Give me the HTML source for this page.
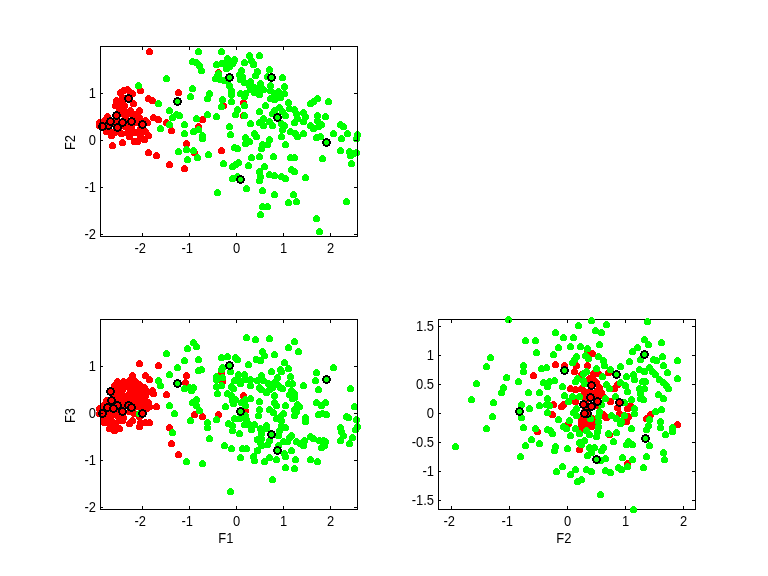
<!DOCTYPE html>
<html><head><meta charset="utf-8"><title>Feature scatter plots</title>
<style>html,body{margin:0;padding:0;background:#fff;}svg{display:block;}</style></head><body>
<svg width="768" height="576" viewBox="0 0 768 576">
<rect width="768" height="576" fill="#fff"/>
<g shape-rendering="crispEdges" fill="#000">
<rect x="100" y="46" width="258" height="1"/>
<rect x="100" y="236" width="258" height="1"/>
<rect x="100" y="319" width="258" height="1"/>
<rect x="100" y="509" width="258" height="1"/>
<rect x="438" y="319" width="258" height="1"/>
<rect x="438" y="509" width="258" height="1"/>
</g>
<g fill="#f00" shape-rendering="crispEdges">
<circle cx="149.5" cy="51.5" r="3.5"/><circle cx="140.5" cy="90.5" r="3.5"/><circle cx="178.5" cy="92.5" r="3.5"/><circle cx="148.5" cy="98.5" r="3.5"/><circle cx="152.5" cy="100.5" r="3.5"/><circle cx="218.5" cy="72.5" r="3.5"/><circle cx="153.5" cy="117.5" r="3.5"/><circle cx="158.5" cy="119.5" r="3.5"/><circle cx="166.5" cy="122.5" r="3.5"/><circle cx="171.5" cy="130.5" r="3.5"/><circle cx="202.5" cy="119.5" r="3.5"/><circle cx="198.5" cy="126.5" r="3.5"/><circle cx="223.5" cy="105.5" r="3.5"/><circle cx="127.5" cy="89.5" r="3.5"/><circle cx="123.5" cy="90.5" r="3.5"/><circle cx="120.5" cy="92.5" r="3.5"/><circle cx="130.5" cy="92.5" r="3.5"/><circle cx="132.5" cy="93.5" r="3.5"/><circle cx="128.5" cy="98.5" r="3.5"/><circle cx="116.5" cy="100.5" r="3.5"/><circle cx="115.5" cy="105.5" r="3.5"/><circle cx="118.5" cy="106.5" r="3.5"/><circle cx="133.5" cy="103.5" r="3.5"/><circle cx="122.5" cy="102.5" r="3.5"/><circle cx="124.5" cy="105.5" r="3.5"/><circle cx="123.5" cy="108.5" r="3.5"/><circle cx="130.5" cy="110.5" r="3.5"/><circle cx="139.5" cy="110.5" r="3.5"/><circle cx="137.5" cy="113.5" r="3.5"/><circle cx="127.5" cy="113.5" r="3.5"/><circle cx="116.5" cy="115.5" r="3.5"/><circle cx="107.5" cy="116.5" r="3.5"/><circle cx="110.5" cy="120.5" r="3.5"/><circle cx="122.5" cy="121.5" r="3.5"/><circle cx="131.5" cy="120.5" r="3.5"/><circle cx="142.5" cy="123.5" r="3.5"/><circle cx="100.5" cy="123.5" r="3.5"/><circle cx="99.5" cy="125.5" r="3.5"/><circle cx="145.5" cy="120.5" r="3.5"/><circle cx="147.5" cy="122.5" r="3.5"/><circle cx="121.5" cy="113.5" r="3.5"/><circle cx="134.5" cy="115.5" r="3.5"/><circle cx="139.5" cy="117.5" r="3.5"/><circle cx="125.5" cy="117.5" r="3.5"/><circle cx="119.5" cy="111.5" r="3.5"/><circle cx="132.5" cy="113.5" r="3.5"/><circle cx="106.5" cy="124.5" r="3.5"/><circle cx="122.5" cy="97.5" r="3.5"/><circle cx="112.5" cy="145.5" r="3.5"/><circle cx="122.5" cy="142.5" r="3.5"/><circle cx="134.5" cy="141.5" r="3.5"/><circle cx="137.5" cy="141.5" r="3.5"/><circle cx="148.5" cy="152.5" r="3.5"/><circle cx="156.5" cy="155.5" r="3.5"/><circle cx="104.5" cy="120.5" r="3.5"/><circle cx="99.5" cy="122.5" r="3.5"/><circle cx="106.5" cy="131.5" r="3.5"/><circle cx="111.5" cy="135.5" r="3.5"/><circle cx="114.5" cy="132.5" r="3.5"/><circle cx="121.5" cy="133.5" r="3.5"/><circle cx="129.5" cy="136.5" r="3.5"/><circle cx="130.5" cy="131.5" r="3.5"/><circle cx="135.5" cy="132.5" r="3.5"/><circle cx="140.5" cy="128.5" r="3.5"/><circle cx="145.5" cy="131.5" r="3.5"/><circle cx="148.5" cy="135.5" r="3.5"/><circle cx="144.5" cy="139.5" r="3.5"/><circle cx="140.5" cy="136.5" r="3.5"/><circle cx="137.5" cy="117.5" r="3.5"/><circle cx="131.5" cy="127.5" r="3.5"/><circle cx="125.5" cy="126.5" r="3.5"/><circle cx="110.5" cy="121.5" r="3.5"/><circle cx="102.5" cy="126.5" r="3.5"/><circle cx="117.5" cy="127.5" r="3.5"/><circle cx="108.5" cy="125.5" r="3.5"/><circle cx="119.5" cy="131.5" r="3.5"/><circle cx="110.5" cy="131.5" r="3.5"/><circle cx="135.5" cy="122.5" r="3.5"/><circle cx="116.5" cy="120.5" r="3.5"/><circle cx="139.5" cy="132.5" r="3.5"/><circle cx="115.5" cy="123.5" r="3.5"/><circle cx="126.5" cy="121.5" r="3.5"/><circle cx="140.5" cy="120.5" r="3.5"/><circle cx="127.5" cy="132.5" r="3.5"/><circle cx="169.5" cy="164.5" r="3.5"/><circle cx="184.5" cy="168.5" r="3.5"/><circle cx="186.5" cy="143.5" r="3.5"/><circle cx="194.5" cy="152.5" r="3.5"/><circle cx="221.5" cy="150.5" r="3.5"/><circle cx="139.5" cy="363.5" r="3.5"/><circle cx="158.5" cy="365.5" r="3.5"/><circle cx="132.5" cy="375.5" r="3.5"/><circle cx="145.5" cy="375.5" r="3.5"/><circle cx="149.5" cy="379.5" r="3.5"/><circle cx="186.5" cy="375.5" r="3.5"/><circle cx="185.5" cy="382.5" r="3.5"/><circle cx="152.5" cy="390.5" r="3.5"/><circle cx="153.5" cy="393.5" r="3.5"/><circle cx="166.5" cy="394.5" r="3.5"/><circle cx="156.5" cy="406.5" r="3.5"/><circle cx="117.5" cy="381.5" r="3.5"/><circle cx="123.5" cy="381.5" r="3.5"/><circle cx="129.5" cy="380.5" r="3.5"/><circle cx="135.5" cy="381.5" r="3.5"/><circle cx="139.5" cy="384.5" r="3.5"/><circle cx="144.5" cy="387.5" r="3.5"/><circle cx="147.5" cy="391.5" r="3.5"/><circle cx="145.5" cy="395.5" r="3.5"/><circle cx="148.5" cy="402.5" r="3.5"/><circle cx="147.5" cy="406.5" r="3.5"/><circle cx="106.5" cy="400.5" r="3.5"/><circle cx="102.5" cy="406.5" r="3.5"/><circle cx="119.5" cy="386.5" r="3.5"/><circle cx="125.5" cy="386.5" r="3.5"/><circle cx="132.5" cy="386.5" r="3.5"/><circle cx="121.5" cy="392.5" r="3.5"/><circle cx="129.5" cy="393.5" r="3.5"/><circle cx="135.5" cy="394.5" r="3.5"/><circle cx="140.5" cy="393.5" r="3.5"/><circle cx="119.5" cy="397.5" r="3.5"/><circle cx="127.5" cy="399.5" r="3.5"/><circle cx="134.5" cy="401.5" r="3.5"/><circle cx="138.5" cy="399.5" r="3.5"/><circle cx="121.5" cy="402.5" r="3.5"/><circle cx="137.5" cy="405.5" r="3.5"/><circle cx="140.5" cy="407.5" r="3.5"/><circle cx="114.5" cy="385.5" r="3.5"/><circle cx="110.5" cy="391.5" r="3.5"/><circle cx="111.5" cy="400.5" r="3.5"/><circle cx="114.5" cy="391.5" r="3.5"/><circle cx="115.5" cy="396.5" r="3.5"/><circle cx="122.5" cy="389.5" r="3.5"/><circle cx="124.5" cy="396.5" r="3.5"/><circle cx="130.5" cy="390.5" r="3.5"/><circle cx="137.5" cy="388.5" r="3.5"/><circle cx="132.5" cy="397.5" r="3.5"/><circle cx="119.5" cy="391.5" r="3.5"/><circle cx="142.5" cy="398.5" r="3.5"/><circle cx="129.5" cy="383.5" r="3.5"/><circle cx="122.5" cy="383.5" r="3.5"/><circle cx="137.5" cy="383.5" r="3.5"/><circle cx="134.5" cy="391.5" r="3.5"/><circle cx="144.5" cy="401.5" r="3.5"/><circle cx="141.5" cy="402.5" r="3.5"/><circle cx="119.5" cy="402.5" r="3.5"/><circle cx="124.5" cy="402.5" r="3.5"/><circle cx="114.5" cy="386.5" r="3.5"/><circle cx="143.5" cy="393.5" r="3.5"/><circle cx="107.5" cy="412.5" r="3.5"/><circle cx="114.5" cy="411.5" r="3.5"/><circle cx="129.5" cy="411.5" r="3.5"/><circle cx="134.5" cy="413.5" r="3.5"/><circle cx="108.5" cy="422.5" r="3.5"/><circle cx="115.5" cy="424.5" r="3.5"/><circle cx="122.5" cy="420.5" r="3.5"/><circle cx="105.5" cy="403.5" r="3.5"/><circle cx="99.5" cy="408.5" r="3.5"/><circle cx="114.5" cy="401.5" r="3.5"/><circle cx="145.5" cy="403.5" r="3.5"/><circle cx="149.5" cy="406.5" r="3.5"/><circle cx="146.5" cy="408.5" r="3.5"/><circle cx="99.5" cy="413.5" r="3.5"/><circle cx="104.5" cy="418.5" r="3.5"/><circle cx="110.5" cy="416.5" r="3.5"/><circle cx="117.5" cy="415.5" r="3.5"/><circle cx="123.5" cy="417.5" r="3.5"/><circle cx="104.5" cy="422.5" r="3.5"/><circle cx="112.5" cy="421.5" r="3.5"/><circle cx="119.5" cy="420.5" r="3.5"/><circle cx="109.5" cy="428.5" r="3.5"/><circle cx="114.5" cy="430.5" r="3.5"/><circle cx="119.5" cy="428.5" r="3.5"/><circle cx="112.5" cy="425.5" r="3.5"/><circle cx="129.5" cy="423.5" r="3.5"/><circle cx="132.5" cy="420.5" r="3.5"/><circle cx="139.5" cy="426.5" r="3.5"/><circle cx="140.5" cy="422.5" r="3.5"/><circle cx="145.5" cy="422.5" r="3.5"/><circle cx="149.5" cy="422.5" r="3.5"/><circle cx="139.5" cy="416.5" r="3.5"/><circle cx="107.5" cy="407.5" r="3.5"/><circle cx="117.5" cy="405.5" r="3.5"/><circle cx="113.5" cy="408.5" r="3.5"/><circle cx="128.5" cy="405.5" r="3.5"/><circle cx="131.5" cy="407.5" r="3.5"/><circle cx="102.5" cy="413.5" r="3.5"/><circle cx="122.5" cy="411.5" r="3.5"/><circle cx="142.5" cy="413.5" r="3.5"/><circle cx="135.5" cy="406.5" r="3.5"/><circle cx="123.5" cy="406.5" r="3.5"/><circle cx="194.5" cy="414.5" r="3.5"/><circle cx="169.5" cy="427.5" r="3.5"/><circle cx="171.5" cy="443.5" r="3.5"/><circle cx="178.5" cy="454.5" r="3.5"/><circle cx="619.5" cy="402.5" r="3.5"/><circle cx="677.5" cy="424.5" r="3.5"/><circle cx="570.5" cy="388.5" r="3.5"/><circle cx="575.5" cy="389.5" r="3.5"/><circle cx="581.5" cy="388.5" r="3.5"/><circle cx="584.5" cy="391.5" r="3.5"/><circle cx="589.5" cy="391.5" r="3.5"/><circle cx="596.5" cy="391.5" r="3.5"/><circle cx="601.5" cy="392.5" r="3.5"/><circle cx="597.5" cy="396.5" r="3.5"/><circle cx="593.5" cy="379.5" r="3.5"/><circle cx="589.5" cy="378.5" r="3.5"/><circle cx="596.5" cy="382.5" r="3.5"/><circle cx="599.5" cy="387.5" r="3.5"/><circle cx="575.5" cy="401.5" r="3.5"/><circle cx="561.5" cy="406.5" r="3.5"/><circle cx="563.5" cy="404.5" r="3.5"/><circle cx="610.5" cy="401.5" r="3.5"/><circle cx="617.5" cy="384.5" r="3.5"/><circle cx="614.5" cy="388.5" r="3.5"/><circle cx="617.5" cy="407.5" r="3.5"/><circle cx="602.5" cy="395.5" r="3.5"/><circle cx="585.5" cy="401.5" r="3.5"/><circle cx="581.5" cy="396.5" r="3.5"/><circle cx="585.5" cy="407.5" r="3.5"/><circle cx="584.5" cy="396.5" r="3.5"/><circle cx="595.5" cy="405.5" r="3.5"/><circle cx="587.5" cy="392.5" r="3.5"/><circle cx="568.5" cy="423.5" r="3.5"/><circle cx="605.5" cy="416.5" r="3.5"/><circle cx="584.5" cy="420.5" r="3.5"/><circle cx="589.5" cy="423.5" r="3.5"/><circle cx="591.5" cy="426.5" r="3.5"/><circle cx="581.5" cy="425.5" r="3.5"/><circle cx="583.5" cy="428.5" r="3.5"/><circle cx="579.5" cy="449.5" r="3.5"/><circle cx="619.5" cy="413.5" r="3.5"/><circle cx="609.5" cy="434.5" r="3.5"/><circle cx="587.5" cy="413.5" r="3.5"/><circle cx="584.5" cy="413.5" r="3.5"/><circle cx="581.5" cy="418.5" r="3.5"/><circle cx="587.5" cy="420.5" r="3.5"/><circle cx="586.5" cy="424.5" r="3.5"/><circle cx="592.5" cy="418.5" r="3.5"/><circle cx="592.5" cy="423.5" r="3.5"/><circle cx="581.5" cy="422.5" r="3.5"/><circle cx="586.5" cy="428.5" r="3.5"/><circle cx="580.5" cy="428.5" r="3.5"/><circle cx="603.5" cy="414.5" r="3.5"/><circle cx="606.5" cy="417.5" r="3.5"/><circle cx="243.5" cy="102.5" r="3.5"/><circle cx="243.5" cy="115.5" r="3.5"/><circle cx="221.5" cy="373.5" r="3.5"/><circle cx="222.5" cy="381.5" r="3.5"/><circle cx="243.5" cy="395.5" r="3.5"/><circle cx="202.5" cy="416.5" r="3.5"/><circle cx="218.5" cy="414.5" r="3.5"/><circle cx="245.5" cy="410.5" r="3.5"/><circle cx="587.5" cy="351.5" r="3.5"/><circle cx="592.5" cy="353.5" r="3.5"/><circle cx="564.5" cy="365.5" r="3.5"/><circle cx="576.5" cy="365.5" r="3.5"/><circle cx="574.5" cy="371.5" r="3.5"/><circle cx="587.5" cy="365.5" r="3.5"/><circle cx="593.5" cy="373.5" r="3.5"/><circle cx="598.5" cy="373.5" r="3.5"/><circle cx="581.5" cy="374.5" r="3.5"/><circle cx="608.5" cy="372.5" r="3.5"/><circle cx="630.5" cy="405.5" r="3.5"/><circle cx="627.5" cy="408.5" r="3.5"/><circle cx="650.5" cy="414.5" r="3.5"/><circle cx="646.5" cy="418.5" r="3.5"/><circle cx="628.5" cy="416.5" r="3.5"/><circle cx="626.5" cy="421.5" r="3.5"/><circle cx="627.5" cy="463.5" r="3.5"/><circle cx="553.5" cy="404.5" r="3.5"/><circle cx="552.5" cy="414.5" r="3.5"/><circle cx="537.5" cy="431.5" r="3.5"/><circle cx="555.5" cy="364.5" r="3.5"/><circle cx="533.5" cy="375.5" r="3.5"/>
</g>
<g fill="#0f0" shape-rendering="crispEdges">
<circle cx="198.5" cy="51.5" r="3.5"/><circle cx="221.5" cy="51.5" r="3.5"/><circle cx="192.5" cy="61.5" r="3.5"/><circle cx="196.5" cy="62.5" r="3.5"/><circle cx="199.5" cy="65.5" r="3.5"/><circle cx="201.5" cy="70.5" r="3.5"/><circle cx="216.5" cy="64.5" r="3.5"/><circle cx="221.5" cy="63.5" r="3.5"/><circle cx="166.5" cy="78.5" r="3.5"/><circle cx="138.5" cy="85.5" r="3.5"/><circle cx="192.5" cy="88.5" r="3.5"/><circle cx="190.5" cy="96.5" r="3.5"/><circle cx="209.5" cy="93.5" r="3.5"/><circle cx="207.5" cy="98.5" r="3.5"/><circle cx="158.5" cy="103.5" r="3.5"/><circle cx="177.5" cy="101.5" r="3.5"/><circle cx="169.5" cy="110.5" r="3.5"/><circle cx="176.5" cy="114.5" r="3.5"/><circle cx="172.5" cy="117.5" r="3.5"/><circle cx="169.5" cy="124.5" r="3.5"/><circle cx="160.5" cy="128.5" r="3.5"/><circle cx="184.5" cy="124.5" r="3.5"/><circle cx="196.5" cy="118.5" r="3.5"/><circle cx="207.5" cy="114.5" r="3.5"/><circle cx="216.5" cy="116.5" r="3.5"/><circle cx="221.5" cy="106.5" r="3.5"/><circle cx="222.5" cy="99.5" r="3.5"/><circle cx="217.5" cy="75.5" r="3.5"/><circle cx="220.5" cy="79.5" r="3.5"/><circle cx="218.5" cy="73.5" r="3.5"/><circle cx="215.5" cy="78.5" r="3.5"/><circle cx="184.5" cy="133.5" r="3.5"/><circle cx="193.5" cy="131.5" r="3.5"/><circle cx="198.5" cy="129.5" r="3.5"/><circle cx="202.5" cy="135.5" r="3.5"/><circle cx="179.5" cy="115.5" r="3.5"/><circle cx="288.5" cy="102.5" r="3.5"/><circle cx="202.5" cy="138.5" r="3.5"/><circle cx="178.5" cy="151.5" r="3.5"/><circle cx="186.5" cy="149.5" r="3.5"/><circle cx="193.5" cy="150.5" r="3.5"/><circle cx="208.5" cy="154.5" r="3.5"/><circle cx="197.5" cy="157.5" r="3.5"/><circle cx="187.5" cy="159.5" r="3.5"/><circle cx="223.5" cy="163.5" r="3.5"/><circle cx="217.5" cy="192.5" r="3.5"/><circle cx="245.5" cy="137.5" r="3.5"/><circle cx="256.5" cy="136.5" r="3.5"/><circle cx="249.5" cy="141.5" r="3.5"/><circle cx="245.5" cy="143.5" r="3.5"/><circle cx="269.5" cy="139.5" r="3.5"/><circle cx="267.5" cy="144.5" r="3.5"/><circle cx="262.5" cy="144.5" r="3.5"/><circle cx="261.5" cy="148.5" r="3.5"/><circle cx="281.5" cy="136.5" r="3.5"/><circle cx="285.5" cy="144.5" r="3.5"/><circle cx="297.5" cy="136.5" r="3.5"/><circle cx="316.5" cy="137.5" r="3.5"/><circle cx="320.5" cy="136.5" r="3.5"/><circle cx="326.5" cy="142.5" r="3.5"/><circle cx="341.5" cy="138.5" r="3.5"/><circle cx="234.5" cy="147.5" r="3.5"/><circle cx="237.5" cy="148.5" r="3.5"/><circle cx="251.5" cy="157.5" r="3.5"/><circle cx="259.5" cy="156.5" r="3.5"/><circle cx="273.5" cy="156.5" r="3.5"/><circle cx="290.5" cy="157.5" r="3.5"/><circle cx="294.5" cy="157.5" r="3.5"/><circle cx="322.5" cy="158.5" r="3.5"/><circle cx="340.5" cy="150.5" r="3.5"/><circle cx="349.5" cy="151.5" r="3.5"/><circle cx="350.5" cy="155.5" r="3.5"/><circle cx="351.5" cy="163.5" r="3.5"/><circle cx="232.5" cy="166.5" r="3.5"/><circle cx="235.5" cy="164.5" r="3.5"/><circle cx="238.5" cy="162.5" r="3.5"/><circle cx="248.5" cy="165.5" r="3.5"/><circle cx="264.5" cy="166.5" r="3.5"/><circle cx="259.5" cy="171.5" r="3.5"/><circle cx="260.5" cy="176.5" r="3.5"/><circle cx="259.5" cy="180.5" r="3.5"/><circle cx="291.5" cy="169.5" r="3.5"/><circle cx="294.5" cy="171.5" r="3.5"/><circle cx="305.5" cy="177.5" r="3.5"/><circle cx="269.5" cy="174.5" r="3.5"/><circle cx="274.5" cy="175.5" r="3.5"/><circle cx="281.5" cy="176.5" r="3.5"/><circle cx="285.5" cy="178.5" r="3.5"/><circle cx="232.5" cy="178.5" r="3.5"/><circle cx="240.5" cy="179.5" r="3.5"/><circle cx="237.5" cy="176.5" r="3.5"/><circle cx="246.5" cy="188.5" r="3.5"/><circle cx="262.5" cy="190.5" r="3.5"/><circle cx="274.5" cy="194.5" r="3.5"/><circle cx="293.5" cy="194.5" r="3.5"/><circle cx="288.5" cy="202.5" r="3.5"/><circle cx="296.5" cy="201.5" r="3.5"/><circle cx="262.5" cy="206.5" r="3.5"/><circle cx="267.5" cy="206.5" r="3.5"/><circle cx="260.5" cy="214.5" r="3.5"/><circle cx="316.5" cy="218.5" r="3.5"/><circle cx="319.5" cy="231.5" r="3.5"/><circle cx="346.5" cy="201.5" r="3.5"/><circle cx="357.5" cy="134.5" r="3.5"/><circle cx="356.5" cy="138.5" r="3.5"/><circle cx="353.5" cy="153.5" r="3.5"/><circle cx="356.5" cy="152.5" r="3.5"/><circle cx="193.5" cy="342.5" r="3.5"/><circle cx="196.5" cy="346.5" r="3.5"/><circle cx="187.5" cy="348.5" r="3.5"/><circle cx="166.5" cy="353.5" r="3.5"/><circle cx="184.5" cy="360.5" r="3.5"/><circle cx="198.5" cy="359.5" r="3.5"/><circle cx="177.5" cy="367.5" r="3.5"/><circle cx="198.5" cy="370.5" r="3.5"/><circle cx="169.5" cy="374.5" r="3.5"/><circle cx="158.5" cy="380.5" r="3.5"/><circle cx="160.5" cy="385.5" r="3.5"/><circle cx="177.5" cy="383.5" r="3.5"/><circle cx="184.5" cy="388.5" r="3.5"/><circle cx="189.5" cy="387.5" r="3.5"/><circle cx="193.5" cy="387.5" r="3.5"/><circle cx="191.5" cy="390.5" r="3.5"/><circle cx="196.5" cy="399.5" r="3.5"/><circle cx="192.5" cy="402.5" r="3.5"/><circle cx="196.5" cy="405.5" r="3.5"/><circle cx="169.5" cy="405.5" r="3.5"/><circle cx="139.5" cy="413.5" r="3.5"/><circle cx="246.5" cy="337.5" r="3.5"/><circle cx="255.5" cy="339.5" r="3.5"/><circle cx="269.5" cy="338.5" r="3.5"/><circle cx="294.5" cy="341.5" r="3.5"/><circle cx="288.5" cy="347.5" r="3.5"/><circle cx="298.5" cy="351.5" r="3.5"/><circle cx="262.5" cy="351.5" r="3.5"/><circle cx="264.5" cy="355.5" r="3.5"/><circle cx="333.5" cy="367.5" r="3.5"/><circle cx="350.5" cy="388.5" r="3.5"/><circle cx="235.5" cy="399.5" r="3.5"/><circle cx="232.5" cy="400.5" r="3.5"/><circle cx="245.5" cy="399.5" r="3.5"/><circle cx="174.5" cy="413.5" r="3.5"/><circle cx="199.5" cy="410.5" r="3.5"/><circle cx="190.5" cy="420.5" r="3.5"/><circle cx="172.5" cy="432.5" r="3.5"/><circle cx="186.5" cy="461.5" r="3.5"/><circle cx="202.5" cy="463.5" r="3.5"/><circle cx="321.5" cy="447.5" r="3.5"/><circle cx="231.5" cy="448.5" r="3.5"/><circle cx="242.5" cy="448.5" r="3.5"/><circle cx="246.5" cy="448.5" r="3.5"/><circle cx="257.5" cy="450.5" r="3.5"/><circle cx="277.5" cy="450.5" r="3.5"/><circle cx="291.5" cy="450.5" r="3.5"/><circle cx="284.5" cy="453.5" r="3.5"/><circle cx="285.5" cy="456.5" r="3.5"/><circle cx="240.5" cy="457.5" r="3.5"/><circle cx="253.5" cy="456.5" r="3.5"/><circle cx="254.5" cy="460.5" r="3.5"/><circle cx="264.5" cy="461.5" r="3.5"/><circle cx="269.5" cy="457.5" r="3.5"/><circle cx="276.5" cy="459.5" r="3.5"/><circle cx="295.5" cy="459.5" r="3.5"/><circle cx="310.5" cy="459.5" r="3.5"/><circle cx="317.5" cy="461.5" r="3.5"/><circle cx="285.5" cy="467.5" r="3.5"/><circle cx="294.5" cy="468.5" r="3.5"/><circle cx="272.5" cy="479.5" r="3.5"/><circle cx="230.5" cy="491.5" r="3.5"/><circle cx="508.5" cy="319.5" r="3.5"/><circle cx="490.5" cy="357.5" r="3.5"/><circle cx="486.5" cy="366.5" r="3.5"/><circle cx="476.5" cy="383.5" r="3.5"/><circle cx="471.5" cy="399.5" r="3.5"/><circle cx="591.5" cy="320.5" r="3.5"/><circle cx="647.5" cy="321.5" r="3.5"/><circle cx="578.5" cy="325.5" r="3.5"/><circle cx="606.5" cy="324.5" r="3.5"/><circle cx="620.5" cy="366.5" r="3.5"/><circle cx="602.5" cy="376.5" r="3.5"/><circle cx="626.5" cy="376.5" r="3.5"/><circle cx="620.5" cy="382.5" r="3.5"/><circle cx="492.5" cy="416.5" r="3.5"/><circle cx="486.5" cy="428.5" r="3.5"/><circle cx="455.5" cy="446.5" r="3.5"/><circle cx="620.5" cy="423.5" r="3.5"/><circle cx="587.5" cy="455.5" r="3.5"/><circle cx="562.5" cy="386.5" r="3.5"/><circle cx="564.5" cy="395.5" r="3.5"/><circle cx="568.5" cy="401.5" r="3.5"/><circle cx="572.5" cy="396.5" r="3.5"/><circle cx="579.5" cy="396.5" r="3.5"/><circle cx="575.5" cy="381.5" r="3.5"/><circle cx="577.5" cy="378.5" r="3.5"/><circle cx="583.5" cy="380.5" r="3.5"/><circle cx="584.5" cy="383.5" r="3.5"/><circle cx="576.5" cy="408.5" r="3.5"/><circle cx="606.5" cy="384.5" r="3.5"/><circle cx="609.5" cy="388.5" r="3.5"/><circle cx="605.5" cy="398.5" r="3.5"/><circle cx="615.5" cy="396.5" r="3.5"/><circle cx="601.5" cy="404.5" r="3.5"/><circle cx="558.5" cy="419.5" r="3.5"/><circle cx="573.5" cy="412.5" r="3.5"/><circle cx="576.5" cy="415.5" r="3.5"/><circle cx="569.5" cy="420.5" r="3.5"/><circle cx="563.5" cy="426.5" r="3.5"/><circle cx="566.5" cy="428.5" r="3.5"/><circle cx="575.5" cy="428.5" r="3.5"/><circle cx="570.5" cy="435.5" r="3.5"/><circle cx="579.5" cy="433.5" r="3.5"/><circle cx="586.5" cy="430.5" r="3.5"/><circle cx="589.5" cy="434.5" r="3.5"/><circle cx="596.5" cy="436.5" r="3.5"/><circle cx="597.5" cy="431.5" r="3.5"/><circle cx="598.5" cy="426.5" r="3.5"/><circle cx="598.5" cy="421.5" r="3.5"/><circle cx="598.5" cy="416.5" r="3.5"/><circle cx="599.5" cy="411.5" r="3.5"/><circle cx="590.5" cy="418.5" r="3.5"/><circle cx="611.5" cy="415.5" r="3.5"/><circle cx="616.5" cy="418.5" r="3.5"/><circle cx="608.5" cy="433.5" r="3.5"/><circle cx="616.5" cy="432.5" r="3.5"/><circle cx="613.5" cy="441.5" r="3.5"/><circle cx="579.5" cy="442.5" r="3.5"/><circle cx="584.5" cy="440.5" r="3.5"/><circle cx="581.5" cy="444.5" r="3.5"/><circle cx="589.5" cy="447.5" r="3.5"/><circle cx="594.5" cy="447.5" r="3.5"/><circle cx="603.5" cy="447.5" r="3.5"/><circle cx="601.5" cy="450.5" r="3.5"/><circle cx="591.5" cy="452.5" r="3.5"/><circle cx="567.5" cy="448.5" r="3.5"/><circle cx="633.5" cy="509.5" r="3.5"/><circle cx="249.5" cy="55.5" r="3.5"/><circle cx="259.5" cy="55.5" r="3.5"/><circle cx="244.5" cy="62.5" r="3.5"/><circle cx="251.5" cy="60.5" r="3.5"/><circle cx="253.5" cy="64.5" r="3.5"/><circle cx="227.5" cy="58.5" r="3.5"/><circle cx="234.5" cy="59.5" r="3.5"/><circle cx="226.5" cy="61.5" r="3.5"/><circle cx="232.5" cy="63.5" r="3.5"/><circle cx="229.5" cy="66.5" r="3.5"/><circle cx="226.5" cy="68.5" r="3.5"/><circle cx="233.5" cy="61.5" r="3.5"/><circle cx="241.5" cy="70.5" r="3.5"/><circle cx="239.5" cy="74.5" r="3.5"/><circle cx="242.5" cy="76.5" r="3.5"/><circle cx="240.5" cy="79.5" r="3.5"/><circle cx="244.5" cy="82.5" r="3.5"/><circle cx="257.5" cy="71.5" r="3.5"/><circle cx="255.5" cy="75.5" r="3.5"/><circle cx="269.5" cy="69.5" r="3.5"/><circle cx="267.5" cy="76.5" r="3.5"/><circle cx="271.5" cy="77.5" r="3.5"/><circle cx="282.5" cy="77.5" r="3.5"/><circle cx="229.5" cy="77.5" r="3.5"/><circle cx="250.5" cy="81.5" r="3.5"/><circle cx="249.5" cy="85.5" r="3.5"/><circle cx="253.5" cy="87.5" r="3.5"/><circle cx="260.5" cy="83.5" r="3.5"/><circle cx="259.5" cy="88.5" r="3.5"/><circle cx="270.5" cy="85.5" r="3.5"/><circle cx="284.5" cy="86.5" r="3.5"/><circle cx="229.5" cy="85.5" r="3.5"/><circle cx="224.5" cy="80.5" r="3.5"/><circle cx="231.5" cy="90.5" r="3.5"/><circle cx="231.5" cy="94.5" r="3.5"/><circle cx="231.5" cy="101.5" r="3.5"/><circle cx="240.5" cy="93.5" r="3.5"/><circle cx="245.5" cy="93.5" r="3.5"/><circle cx="244.5" cy="96.5" r="3.5"/><circle cx="244.5" cy="105.5" r="3.5"/><circle cx="237.5" cy="109.5" r="3.5"/><circle cx="235.5" cy="114.5" r="3.5"/><circle cx="244.5" cy="115.5" r="3.5"/><circle cx="229.5" cy="126.5" r="3.5"/><circle cx="250.5" cy="123.5" r="3.5"/><circle cx="259.5" cy="111.5" r="3.5"/><circle cx="265.5" cy="105.5" r="3.5"/><circle cx="250.5" cy="89.5" r="3.5"/><circle cx="254.5" cy="92.5" r="3.5"/><circle cx="259.5" cy="94.5" r="3.5"/><circle cx="263.5" cy="89.5" r="3.5"/><circle cx="270.5" cy="90.5" r="3.5"/><circle cx="274.5" cy="93.5" r="3.5"/><circle cx="278.5" cy="91.5" r="3.5"/><circle cx="270.5" cy="98.5" r="3.5"/><circle cx="274.5" cy="99.5" r="3.5"/><circle cx="280.5" cy="97.5" r="3.5"/><circle cx="284.5" cy="93.5" r="3.5"/><circle cx="279.5" cy="107.5" r="3.5"/><circle cx="274.5" cy="110.5" r="3.5"/><circle cx="282.5" cy="111.5" r="3.5"/><circle cx="272.5" cy="113.5" r="3.5"/><circle cx="285.5" cy="115.5" r="3.5"/><circle cx="277.5" cy="117.5" r="3.5"/><circle cx="263.5" cy="118.5" r="3.5"/><circle cx="259.5" cy="122.5" r="3.5"/><circle cx="263.5" cy="125.5" r="3.5"/><circle cx="269.5" cy="121.5" r="3.5"/><circle cx="272.5" cy="125.5" r="3.5"/><circle cx="281.5" cy="123.5" r="3.5"/><circle cx="284.5" cy="125.5" r="3.5"/><circle cx="282.5" cy="129.5" r="3.5"/><circle cx="230.5" cy="134.5" r="3.5"/><circle cx="254.5" cy="133.5" r="3.5"/><circle cx="317.5" cy="98.5" r="3.5"/><circle cx="313.5" cy="101.5" r="3.5"/><circle cx="310.5" cy="103.5" r="3.5"/><circle cx="328.5" cy="101.5" r="3.5"/><circle cx="289.5" cy="108.5" r="3.5"/><circle cx="294.5" cy="109.5" r="3.5"/><circle cx="296.5" cy="113.5" r="3.5"/><circle cx="303.5" cy="112.5" r="3.5"/><circle cx="305.5" cy="116.5" r="3.5"/><circle cx="303.5" cy="121.5" r="3.5"/><circle cx="297.5" cy="118.5" r="3.5"/><circle cx="294.5" cy="122.5" r="3.5"/><circle cx="317.5" cy="115.5" r="3.5"/><circle cx="325.5" cy="116.5" r="3.5"/><circle cx="317.5" cy="120.5" r="3.5"/><circle cx="321.5" cy="124.5" r="3.5"/><circle cx="310.5" cy="125.5" r="3.5"/><circle cx="313.5" cy="128.5" r="3.5"/><circle cx="318.5" cy="126.5" r="3.5"/><circle cx="340.5" cy="124.5" r="3.5"/><circle cx="343.5" cy="126.5" r="3.5"/><circle cx="333.5" cy="133.5" r="3.5"/><circle cx="347.5" cy="133.5" r="3.5"/><circle cx="290.5" cy="131.5" r="3.5"/><circle cx="295.5" cy="133.5" r="3.5"/><circle cx="303.5" cy="133.5" r="3.5"/><circle cx="201.5" cy="369.5" r="3.5"/><circle cx="221.5" cy="357.5" r="3.5"/><circle cx="227.5" cy="356.5" r="3.5"/><circle cx="235.5" cy="357.5" r="3.5"/><circle cx="237.5" cy="359.5" r="3.5"/><circle cx="229.5" cy="365.5" r="3.5"/><circle cx="222.5" cy="367.5" r="3.5"/><circle cx="221.5" cy="369.5" r="3.5"/><circle cx="230.5" cy="371.5" r="3.5"/><circle cx="248.5" cy="364.5" r="3.5"/><circle cx="256.5" cy="359.5" r="3.5"/><circle cx="260.5" cy="360.5" r="3.5"/><circle cx="216.5" cy="376.5" r="3.5"/><circle cx="222.5" cy="377.5" r="3.5"/><circle cx="216.5" cy="379.5" r="3.5"/><circle cx="216.5" cy="386.5" r="3.5"/><circle cx="221.5" cy="385.5" r="3.5"/><circle cx="217.5" cy="393.5" r="3.5"/><circle cx="238.5" cy="374.5" r="3.5"/><circle cx="244.5" cy="374.5" r="3.5"/><circle cx="234.5" cy="380.5" r="3.5"/><circle cx="239.5" cy="380.5" r="3.5"/><circle cx="245.5" cy="379.5" r="3.5"/><circle cx="250.5" cy="379.5" r="3.5"/><circle cx="240.5" cy="383.5" r="3.5"/><circle cx="250.5" cy="385.5" r="3.5"/><circle cx="231.5" cy="386.5" r="3.5"/><circle cx="233.5" cy="388.5" r="3.5"/><circle cx="227.5" cy="393.5" r="3.5"/><circle cx="231.5" cy="395.5" r="3.5"/><circle cx="261.5" cy="375.5" r="3.5"/><circle cx="257.5" cy="380.5" r="3.5"/><circle cx="263.5" cy="380.5" r="3.5"/><circle cx="259.5" cy="387.5" r="3.5"/><circle cx="261.5" cy="389.5" r="3.5"/><circle cx="250.5" cy="398.5" r="3.5"/><circle cx="274.5" cy="354.5" r="3.5"/><circle cx="284.5" cy="362.5" r="3.5"/><circle cx="280.5" cy="369.5" r="3.5"/><circle cx="288.5" cy="368.5" r="3.5"/><circle cx="281.5" cy="371.5" r="3.5"/><circle cx="271.5" cy="371.5" r="3.5"/><circle cx="277.5" cy="377.5" r="3.5"/><circle cx="290.5" cy="376.5" r="3.5"/><circle cx="316.5" cy="372.5" r="3.5"/><circle cx="315.5" cy="380.5" r="3.5"/><circle cx="326.5" cy="379.5" r="3.5"/><circle cx="303.5" cy="385.5" r="3.5"/><circle cx="318.5" cy="389.5" r="3.5"/><circle cx="288.5" cy="383.5" r="3.5"/><circle cx="292.5" cy="383.5" r="3.5"/><circle cx="268.5" cy="383.5" r="3.5"/><circle cx="274.5" cy="382.5" r="3.5"/><circle cx="277.5" cy="384.5" r="3.5"/><circle cx="272.5" cy="387.5" r="3.5"/><circle cx="269.5" cy="389.5" r="3.5"/><circle cx="266.5" cy="392.5" r="3.5"/><circle cx="280.5" cy="387.5" r="3.5"/><circle cx="282.5" cy="388.5" r="3.5"/><circle cx="274.5" cy="395.5" r="3.5"/><circle cx="291.5" cy="390.5" r="3.5"/><circle cx="289.5" cy="394.5" r="3.5"/><circle cx="294.5" cy="393.5" r="3.5"/><circle cx="294.5" cy="397.5" r="3.5"/><circle cx="292.5" cy="398.5" r="3.5"/><circle cx="225.5" cy="406.5" r="3.5"/><circle cx="240.5" cy="411.5" r="3.5"/><circle cx="216.5" cy="419.5" r="3.5"/><circle cx="207.5" cy="422.5" r="3.5"/><circle cx="207.5" cy="427.5" r="3.5"/><circle cx="209.5" cy="438.5" r="3.5"/><circle cx="224.5" cy="445.5" r="3.5"/><circle cx="233.5" cy="403.5" r="3.5"/><circle cx="241.5" cy="402.5" r="3.5"/><circle cx="245.5" cy="405.5" r="3.5"/><circle cx="259.5" cy="401.5" r="3.5"/><circle cx="259.5" cy="409.5" r="3.5"/><circle cx="258.5" cy="415.5" r="3.5"/><circle cx="234.5" cy="418.5" r="3.5"/><circle cx="239.5" cy="418.5" r="3.5"/><circle cx="245.5" cy="415.5" r="3.5"/><circle cx="246.5" cy="419.5" r="3.5"/><circle cx="228.5" cy="423.5" r="3.5"/><circle cx="232.5" cy="425.5" r="3.5"/><circle cx="232.5" cy="430.5" r="3.5"/><circle cx="239.5" cy="433.5" r="3.5"/><circle cx="244.5" cy="424.5" r="3.5"/><circle cx="249.5" cy="424.5" r="3.5"/><circle cx="254.5" cy="424.5" r="3.5"/><circle cx="251.5" cy="429.5" r="3.5"/><circle cx="260.5" cy="428.5" r="3.5"/><circle cx="261.5" cy="433.5" r="3.5"/><circle cx="257.5" cy="439.5" r="3.5"/><circle cx="261.5" cy="438.5" r="3.5"/><circle cx="260.5" cy="442.5" r="3.5"/><circle cx="261.5" cy="445.5" r="3.5"/><circle cx="274.5" cy="402.5" r="3.5"/><circle cx="276.5" cy="405.5" r="3.5"/><circle cx="285.5" cy="405.5" r="3.5"/><circle cx="269.5" cy="409.5" r="3.5"/><circle cx="273.5" cy="412.5" r="3.5"/><circle cx="283.5" cy="413.5" r="3.5"/><circle cx="280.5" cy="416.5" r="3.5"/><circle cx="276.5" cy="418.5" r="3.5"/><circle cx="281.5" cy="420.5" r="3.5"/><circle cx="297.5" cy="404.5" r="3.5"/><circle cx="299.5" cy="406.5" r="3.5"/><circle cx="294.5" cy="409.5" r="3.5"/><circle cx="296.5" cy="411.5" r="3.5"/><circle cx="294.5" cy="415.5" r="3.5"/><circle cx="305.5" cy="417.5" r="3.5"/><circle cx="305.5" cy="421.5" r="3.5"/><circle cx="316.5" cy="402.5" r="3.5"/><circle cx="321.5" cy="405.5" r="3.5"/><circle cx="325.5" cy="402.5" r="3.5"/><circle cx="318.5" cy="414.5" r="3.5"/><circle cx="322.5" cy="413.5" r="3.5"/><circle cx="326.5" cy="414.5" r="3.5"/><circle cx="266.5" cy="425.5" r="3.5"/><circle cx="266.5" cy="428.5" r="3.5"/><circle cx="281.5" cy="425.5" r="3.5"/><circle cx="285.5" cy="427.5" r="3.5"/><circle cx="279.5" cy="430.5" r="3.5"/><circle cx="278.5" cy="435.5" r="3.5"/><circle cx="271.5" cy="434.5" r="3.5"/><circle cx="291.5" cy="435.5" r="3.5"/><circle cx="289.5" cy="437.5" r="3.5"/><circle cx="283.5" cy="441.5" r="3.5"/><circle cx="287.5" cy="441.5" r="3.5"/><circle cx="278.5" cy="445.5" r="3.5"/><circle cx="269.5" cy="440.5" r="3.5"/><circle cx="267.5" cy="444.5" r="3.5"/><circle cx="296.5" cy="441.5" r="3.5"/><circle cx="300.5" cy="443.5" r="3.5"/><circle cx="304.5" cy="440.5" r="3.5"/><circle cx="303.5" cy="445.5" r="3.5"/><circle cx="310.5" cy="436.5" r="3.5"/><circle cx="313.5" cy="438.5" r="3.5"/><circle cx="319.5" cy="440.5" r="3.5"/><circle cx="323.5" cy="440.5" r="3.5"/><circle cx="325.5" cy="441.5" r="3.5"/><circle cx="324.5" cy="445.5" r="3.5"/><circle cx="354.5" cy="406.5" r="3.5"/><circle cx="346.5" cy="416.5" r="3.5"/><circle cx="348.5" cy="417.5" r="3.5"/><circle cx="356.5" cy="419.5" r="3.5"/><circle cx="357.5" cy="426.5" r="3.5"/><circle cx="355.5" cy="429.5" r="3.5"/><circle cx="340.5" cy="427.5" r="3.5"/><circle cx="341.5" cy="431.5" r="3.5"/><circle cx="343.5" cy="435.5" r="3.5"/><circle cx="340.5" cy="440.5" r="3.5"/><circle cx="352.5" cy="437.5" r="3.5"/><circle cx="349.5" cy="443.5" r="3.5"/><circle cx="563.5" cy="337.5" r="3.5"/><circle cx="573.5" cy="337.5" r="3.5"/><circle cx="558.5" cy="347.5" r="3.5"/><circle cx="570.5" cy="346.5" r="3.5"/><circle cx="580.5" cy="346.5" r="3.5"/><circle cx="587.5" cy="348.5" r="3.5"/><circle cx="595.5" cy="330.5" r="3.5"/><circle cx="601.5" cy="332.5" r="3.5"/><circle cx="599.5" cy="344.5" r="3.5"/><circle cx="576.5" cy="356.5" r="3.5"/><circle cx="574.5" cy="359.5" r="3.5"/><circle cx="572.5" cy="362.5" r="3.5"/><circle cx="585.5" cy="355.5" r="3.5"/><circle cx="588.5" cy="358.5" r="3.5"/><circle cx="598.5" cy="356.5" r="3.5"/><circle cx="603.5" cy="360.5" r="3.5"/><circle cx="604.5" cy="365.5" r="3.5"/><circle cx="596.5" cy="368.5" r="3.5"/><circle cx="610.5" cy="369.5" r="3.5"/><circle cx="564.5" cy="370.5" r="3.5"/><circle cx="616.5" cy="374.5" r="3.5"/><circle cx="586.5" cy="371.5" r="3.5"/><circle cx="583.5" cy="373.5" r="3.5"/><circle cx="644.5" cy="339.5" r="3.5"/><circle cx="648.5" cy="344.5" r="3.5"/><circle cx="661.5" cy="342.5" r="3.5"/><circle cx="637.5" cy="347.5" r="3.5"/><circle cx="632.5" cy="351.5" r="3.5"/><circle cx="644.5" cy="354.5" r="3.5"/><circle cx="640.5" cy="359.5" r="3.5"/><circle cx="629.5" cy="361.5" r="3.5"/><circle cx="653.5" cy="359.5" r="3.5"/><circle cx="656.5" cy="360.5" r="3.5"/><circle cx="662.5" cy="356.5" r="3.5"/><circle cx="677.5" cy="360.5" r="3.5"/><circle cx="663.5" cy="365.5" r="3.5"/><circle cx="667.5" cy="372.5" r="3.5"/><circle cx="639.5" cy="369.5" r="3.5"/><circle cx="644.5" cy="371.5" r="3.5"/><circle cx="649.5" cy="367.5" r="3.5"/><circle cx="652.5" cy="371.5" r="3.5"/><circle cx="655.5" cy="374.5" r="3.5"/><circle cx="633.5" cy="374.5" r="3.5"/><circle cx="634.5" cy="379.5" r="3.5"/><circle cx="625.5" cy="385.5" r="3.5"/><circle cx="627.5" cy="391.5" r="3.5"/><circle cx="642.5" cy="381.5" r="3.5"/><circle cx="645.5" cy="381.5" r="3.5"/><circle cx="639.5" cy="388.5" r="3.5"/><circle cx="644.5" cy="388.5" r="3.5"/><circle cx="640.5" cy="393.5" r="3.5"/><circle cx="640.5" cy="398.5" r="3.5"/><circle cx="643.5" cy="399.5" r="3.5"/><circle cx="659.5" cy="379.5" r="3.5"/><circle cx="663.5" cy="382.5" r="3.5"/><circle cx="666.5" cy="385.5" r="3.5"/><circle cx="668.5" cy="388.5" r="3.5"/><circle cx="677.5" cy="378.5" r="3.5"/><circle cx="658.5" cy="394.5" r="3.5"/><circle cx="663.5" cy="398.5" r="3.5"/><circle cx="631.5" cy="399.5" r="3.5"/><circle cx="624.5" cy="402.5" r="3.5"/><circle cx="634.5" cy="408.5" r="3.5"/><circle cx="634.5" cy="413.5" r="3.5"/><circle cx="661.5" cy="409.5" r="3.5"/><circle cx="655.5" cy="411.5" r="3.5"/><circle cx="649.5" cy="419.5" r="3.5"/><circle cx="660.5" cy="421.5" r="3.5"/><circle cx="624.5" cy="415.5" r="3.5"/><circle cx="621.5" cy="421.5" r="3.5"/><circle cx="631.5" cy="428.5" r="3.5"/><circle cx="648.5" cy="425.5" r="3.5"/><circle cx="646.5" cy="429.5" r="3.5"/><circle cx="660.5" cy="427.5" r="3.5"/><circle cx="665.5" cy="434.5" r="3.5"/><circle cx="672.5" cy="427.5" r="3.5"/><circle cx="672.5" cy="431.5" r="3.5"/><circle cx="645.5" cy="438.5" r="3.5"/><circle cx="628.5" cy="441.5" r="3.5"/><circle cx="626.5" cy="444.5" r="3.5"/><circle cx="632.5" cy="444.5" r="3.5"/><circle cx="649.5" cy="445.5" r="3.5"/><circle cx="663.5" cy="452.5" r="3.5"/><circle cx="664.5" cy="459.5" r="3.5"/><circle cx="646.5" cy="456.5" r="3.5"/><circle cx="622.5" cy="457.5" r="3.5"/><circle cx="632.5" cy="459.5" r="3.5"/><circle cx="627.5" cy="466.5" r="3.5"/><circle cx="643.5" cy="467.5" r="3.5"/><circle cx="621.5" cy="469.5" r="3.5"/><circle cx="506.5" cy="377.5" r="3.5"/><circle cx="518.5" cy="381.5" r="3.5"/><circle cx="503.5" cy="387.5" r="3.5"/><circle cx="501.5" cy="392.5" r="3.5"/><circle cx="528.5" cy="392.5" r="3.5"/><circle cx="539.5" cy="392.5" r="3.5"/><circle cx="543.5" cy="382.5" r="3.5"/><circle cx="547.5" cy="386.5" r="3.5"/><circle cx="549.5" cy="381.5" r="3.5"/><circle cx="554.5" cy="380.5" r="3.5"/><circle cx="493.5" cy="402.5" r="3.5"/><circle cx="521.5" cy="404.5" r="3.5"/><circle cx="519.5" cy="411.5" r="3.5"/><circle cx="529.5" cy="408.5" r="3.5"/><circle cx="521.5" cy="417.5" r="3.5"/><circle cx="539.5" cy="405.5" r="3.5"/><circle cx="547.5" cy="398.5" r="3.5"/><circle cx="546.5" cy="404.5" r="3.5"/><circle cx="549.5" cy="405.5" r="3.5"/><circle cx="547.5" cy="412.5" r="3.5"/><circle cx="523.5" cy="427.5" r="3.5"/><circle cx="535.5" cy="428.5" r="3.5"/><circle cx="547.5" cy="429.5" r="3.5"/><circle cx="550.5" cy="430.5" r="3.5"/><circle cx="552.5" cy="433.5" r="3.5"/><circle cx="531.5" cy="439.5" r="3.5"/><circle cx="539.5" cy="443.5" r="3.5"/><circle cx="525.5" cy="445.5" r="3.5"/><circle cx="520.5" cy="456.5" r="3.5"/><circle cx="555.5" cy="446.5" r="3.5"/><circle cx="554.5" cy="450.5" r="3.5"/><circle cx="525.5" cy="340.5" r="3.5"/><circle cx="535.5" cy="340.5" r="3.5"/><circle cx="536.5" cy="352.5" r="3.5"/><circle cx="555.5" cy="332.5" r="3.5"/><circle cx="553.5" cy="354.5" r="3.5"/><circle cx="523.5" cy="365.5" r="3.5"/><circle cx="523.5" cy="371.5" r="3.5"/><circle cx="541.5" cy="368.5" r="3.5"/><circle cx="546.5" cy="367.5" r="3.5"/><circle cx="596.5" cy="459.5" r="3.5"/><circle cx="600.5" cy="460.5" r="3.5"/><circle cx="605.5" cy="458.5" r="3.5"/><circle cx="562.5" cy="466.5" r="3.5"/><circle cx="556.5" cy="471.5" r="3.5"/><circle cx="575.5" cy="469.5" r="3.5"/><circle cx="570.5" cy="474.5" r="3.5"/><circle cx="586.5" cy="469.5" r="3.5"/><circle cx="591.5" cy="471.5" r="3.5"/><circle cx="605.5" cy="470.5" r="3.5"/><circle cx="610.5" cy="472.5" r="3.5"/><circle cx="618.5" cy="467.5" r="3.5"/><circle cx="581.5" cy="479.5" r="3.5"/><circle cx="577.5" cy="481.5" r="3.5"/><circle cx="600.5" cy="494.5" r="3.5"/>
</g>
<g shape-rendering="crispEdges">
<circle cx="177.5" cy="101.5" r="4.3" fill="#000"/><circle cx="177.5" cy="101.5" r="2.5" fill="#0f0"/>
<circle cx="128.5" cy="98.5" r="4.3" fill="#000"/><circle cx="128.5" cy="98.5" r="2.5" fill="#f00"/>
<circle cx="108.5" cy="125.5" r="4.3" fill="#000"/><circle cx="108.5" cy="125.5" r="2.5" fill="#f00"/>
<circle cx="116.5" cy="115.5" r="4.3" fill="#000"/><circle cx="116.5" cy="115.5" r="2.5" fill="#f00"/>
<circle cx="110.5" cy="121.5" r="4.3" fill="#000"/><circle cx="110.5" cy="121.5" r="2.5" fill="#f00"/>
<circle cx="122.5" cy="122.5" r="4.3" fill="#000"/><circle cx="122.5" cy="122.5" r="2.5" fill="#f00"/>
<circle cx="131.5" cy="121.5" r="4.3" fill="#000"/><circle cx="131.5" cy="121.5" r="2.5" fill="#f00"/>
<circle cx="142.5" cy="124.5" r="4.3" fill="#000"/><circle cx="142.5" cy="124.5" r="2.5" fill="#f00"/>
<circle cx="102.5" cy="126.5" r="4.3" fill="#000"/><circle cx="102.5" cy="126.5" r="2.5" fill="#f00"/>
<circle cx="117.5" cy="127.5" r="4.3" fill="#000"/><circle cx="117.5" cy="127.5" r="2.5" fill="#f00"/>
<circle cx="326.5" cy="142.5" r="4.3" fill="#000"/><circle cx="326.5" cy="142.5" r="2.5" fill="#0f0"/>
<circle cx="240.5" cy="179.5" r="4.3" fill="#000"/><circle cx="240.5" cy="179.5" r="2.5" fill="#0f0"/>
<circle cx="177.5" cy="383.5" r="4.3" fill="#000"/><circle cx="177.5" cy="383.5" r="2.5" fill="#0f0"/>
<circle cx="110.5" cy="391.5" r="4.3" fill="#000"/><circle cx="110.5" cy="391.5" r="2.5" fill="#f00"/>
<circle cx="111.5" cy="400.5" r="4.3" fill="#000"/><circle cx="111.5" cy="400.5" r="2.5" fill="#f00"/>
<circle cx="107.5" cy="407.5" r="4.3" fill="#000"/><circle cx="107.5" cy="407.5" r="2.5" fill="#f00"/>
<circle cx="117.5" cy="405.5" r="4.3" fill="#000"/><circle cx="117.5" cy="405.5" r="2.5" fill="#f00"/>
<circle cx="113.5" cy="408.5" r="4.3" fill="#000"/><circle cx="113.5" cy="408.5" r="2.5" fill="#f00"/>
<circle cx="128.5" cy="405.5" r="4.3" fill="#000"/><circle cx="128.5" cy="405.5" r="2.5" fill="#f00"/>
<circle cx="131.5" cy="407.5" r="4.3" fill="#000"/><circle cx="131.5" cy="407.5" r="2.5" fill="#f00"/>
<circle cx="102.5" cy="413.5" r="4.3" fill="#000"/><circle cx="102.5" cy="413.5" r="2.5" fill="#f00"/>
<circle cx="122.5" cy="411.5" r="4.3" fill="#000"/><circle cx="122.5" cy="411.5" r="2.5" fill="#f00"/>
<circle cx="142.5" cy="413.5" r="4.3" fill="#000"/><circle cx="142.5" cy="413.5" r="2.5" fill="#f00"/>
<circle cx="277.5" cy="450.5" r="4.3" fill="#000"/><circle cx="277.5" cy="450.5" r="2.5" fill="#0f0"/>
<circle cx="619.5" cy="402.5" r="4.3" fill="#000"/><circle cx="619.5" cy="402.5" r="2.5" fill="#f00"/>
<circle cx="591.5" cy="385.5" r="4.3" fill="#000"/><circle cx="591.5" cy="385.5" r="2.5" fill="#f00"/>
<circle cx="590.5" cy="397.5" r="4.3" fill="#000"/><circle cx="590.5" cy="397.5" r="2.5" fill="#f00"/>
<circle cx="597.5" cy="401.5" r="4.3" fill="#000"/><circle cx="597.5" cy="401.5" r="2.5" fill="#f00"/>
<circle cx="583.5" cy="404.5" r="4.3" fill="#000"/><circle cx="583.5" cy="404.5" r="2.5" fill="#f00"/>
<circle cx="591.5" cy="406.5" r="4.3" fill="#000"/><circle cx="591.5" cy="406.5" r="2.5" fill="#f00"/>
<circle cx="587.5" cy="413.5" r="4.3" fill="#000"/><circle cx="587.5" cy="413.5" r="2.5" fill="#f00"/>
<circle cx="584.5" cy="413.5" r="4.3" fill="#000"/><circle cx="584.5" cy="413.5" r="2.5" fill="#f00"/>
<circle cx="271.5" cy="77.5" r="4.3" fill="#000"/><circle cx="271.5" cy="77.5" r="2.5" fill="#0f0"/>
<circle cx="229.5" cy="77.5" r="4.3" fill="#000"/><circle cx="229.5" cy="77.5" r="2.5" fill="#0f0"/>
<circle cx="277.5" cy="117.5" r="4.3" fill="#000"/><circle cx="277.5" cy="117.5" r="2.5" fill="#0f0"/>
<circle cx="229.5" cy="365.5" r="4.3" fill="#000"/><circle cx="229.5" cy="365.5" r="2.5" fill="#0f0"/>
<circle cx="326.5" cy="379.5" r="4.3" fill="#000"/><circle cx="326.5" cy="379.5" r="2.5" fill="#0f0"/>
<circle cx="240.5" cy="411.5" r="4.3" fill="#000"/><circle cx="240.5" cy="411.5" r="2.5" fill="#0f0"/>
<circle cx="271.5" cy="434.5" r="4.3" fill="#000"/><circle cx="271.5" cy="434.5" r="2.5" fill="#0f0"/>
<circle cx="564.5" cy="370.5" r="4.3" fill="#000"/><circle cx="564.5" cy="370.5" r="2.5" fill="#0f0"/>
<circle cx="616.5" cy="374.5" r="4.3" fill="#000"/><circle cx="616.5" cy="374.5" r="2.5" fill="#0f0"/>
<circle cx="644.5" cy="354.5" r="4.3" fill="#000"/><circle cx="644.5" cy="354.5" r="2.5" fill="#0f0"/>
<circle cx="645.5" cy="438.5" r="4.3" fill="#000"/><circle cx="645.5" cy="438.5" r="2.5" fill="#0f0"/>
<circle cx="519.5" cy="411.5" r="4.3" fill="#000"/><circle cx="519.5" cy="411.5" r="2.5" fill="#0f0"/>
<circle cx="596.5" cy="459.5" r="4.3" fill="#000"/><circle cx="596.5" cy="459.5" r="2.5" fill="#0f0"/>
</g>
<g shape-rendering="crispEdges" fill="#000">
<rect x="100" y="46" width="1" height="191"/>
<rect x="357" y="46" width="1" height="191"/>
<rect x="142" y="233" width="1" height="3"/>
<rect x="142" y="47" width="1" height="3"/>
<rect x="189" y="233" width="1" height="3"/>
<rect x="189" y="47" width="1" height="3"/>
<rect x="236" y="233" width="1" height="3"/>
<rect x="236" y="47" width="1" height="3"/>
<rect x="283" y="233" width="1" height="3"/>
<rect x="283" y="47" width="1" height="3"/>
<rect x="330" y="233" width="1" height="3"/>
<rect x="330" y="47" width="1" height="3"/>
<rect x="101" y="93" width="2" height="1"/>
<rect x="354" y="93" width="3" height="1"/>
<rect x="101" y="140" width="2" height="1"/>
<rect x="354" y="140" width="3" height="1"/>
<rect x="101" y="187" width="2" height="1"/>
<rect x="354" y="187" width="3" height="1"/>
<rect x="101" y="234" width="2" height="1"/>
<rect x="354" y="234" width="3" height="1"/>
</g>
<g font-family="Liberation Sans, Arial, Helvetica, sans-serif" font-size="13.9px" fill="#000">
<text transform="translate(140.2,253.0) scale(0.93,1)" text-anchor="middle">-2</text>
<text transform="translate(187.2,253.0) scale(0.93,1)" text-anchor="middle">-1</text>
<text transform="translate(236.5,253.0) scale(0.93,1)" text-anchor="middle">0</text>
<text transform="translate(283.5,253.0) scale(0.93,1)" text-anchor="middle">1</text>
<text transform="translate(330.5,253.0) scale(0.93,1)" text-anchor="middle">2</text>
<text transform="translate(96.0,97.5) scale(0.93,1)" text-anchor="end">1</text>
<text transform="translate(96.0,144.5) scale(0.93,1)" text-anchor="end">0</text>
<text transform="translate(96.0,191.5) scale(0.93,1)" text-anchor="end">-1</text>
<text transform="translate(96.0,238.5) scale(0.93,1)" text-anchor="end">-2</text>
<text transform="translate(75.0,142.5) rotate(-90) scale(0.93,1)" text-anchor="middle">F2</text>
</g>
<g shape-rendering="crispEdges" fill="#000">
<rect x="100" y="319" width="1" height="191"/>
<rect x="357" y="319" width="1" height="191"/>
<rect x="142" y="506" width="1" height="3"/>
<rect x="142" y="320" width="1" height="3"/>
<rect x="189" y="506" width="1" height="3"/>
<rect x="189" y="320" width="1" height="3"/>
<rect x="236" y="506" width="1" height="3"/>
<rect x="236" y="320" width="1" height="3"/>
<rect x="283" y="506" width="1" height="3"/>
<rect x="283" y="320" width="1" height="3"/>
<rect x="330" y="506" width="1" height="3"/>
<rect x="330" y="320" width="1" height="3"/>
<rect x="101" y="366" width="2" height="1"/>
<rect x="354" y="366" width="3" height="1"/>
<rect x="101" y="413" width="2" height="1"/>
<rect x="354" y="413" width="3" height="1"/>
<rect x="101" y="460" width="2" height="1"/>
<rect x="354" y="460" width="3" height="1"/>
<rect x="101" y="507" width="2" height="1"/>
<rect x="354" y="507" width="3" height="1"/>
</g>
<g font-family="Liberation Sans, Arial, Helvetica, sans-serif" font-size="13.9px" fill="#000">
<text transform="translate(140.2,526.0) scale(0.93,1)" text-anchor="middle">-2</text>
<text transform="translate(187.2,526.0) scale(0.93,1)" text-anchor="middle">-1</text>
<text transform="translate(236.5,526.0) scale(0.93,1)" text-anchor="middle">0</text>
<text transform="translate(283.5,526.0) scale(0.93,1)" text-anchor="middle">1</text>
<text transform="translate(330.5,526.0) scale(0.93,1)" text-anchor="middle">2</text>
<text transform="translate(96.0,370.5) scale(0.93,1)" text-anchor="end">1</text>
<text transform="translate(96.0,417.5) scale(0.93,1)" text-anchor="end">0</text>
<text transform="translate(96.0,464.5) scale(0.93,1)" text-anchor="end">-1</text>
<text transform="translate(96.0,511.5) scale(0.93,1)" text-anchor="end">-2</text>
<text transform="translate(225.8,542.5) scale(0.93,1)" text-anchor="middle">F1</text>
<text transform="translate(75.0,415.5) rotate(-90) scale(0.93,1)" text-anchor="middle">F3</text>
</g>
<g shape-rendering="crispEdges" fill="#000">
<rect x="438" y="319" width="1" height="191"/>
<rect x="695" y="319" width="1" height="191"/>
<rect x="451" y="506" width="1" height="3"/>
<rect x="451" y="320" width="1" height="3"/>
<rect x="509" y="506" width="1" height="3"/>
<rect x="509" y="320" width="1" height="3"/>
<rect x="567" y="506" width="1" height="3"/>
<rect x="567" y="320" width="1" height="3"/>
<rect x="625" y="506" width="1" height="3"/>
<rect x="625" y="320" width="1" height="3"/>
<rect x="683" y="506" width="1" height="3"/>
<rect x="683" y="320" width="1" height="3"/>
<rect x="439" y="326" width="2" height="1"/>
<rect x="692" y="326" width="3" height="1"/>
<rect x="439" y="355" width="2" height="1"/>
<rect x="692" y="355" width="3" height="1"/>
<rect x="439" y="384" width="2" height="1"/>
<rect x="692" y="384" width="3" height="1"/>
<rect x="439" y="413" width="2" height="1"/>
<rect x="692" y="413" width="3" height="1"/>
<rect x="439" y="442" width="2" height="1"/>
<rect x="692" y="442" width="3" height="1"/>
<rect x="439" y="471" width="2" height="1"/>
<rect x="692" y="471" width="3" height="1"/>
<rect x="439" y="500" width="2" height="1"/>
<rect x="692" y="500" width="3" height="1"/>
</g>
<g font-family="Liberation Sans, Arial, Helvetica, sans-serif" font-size="13.9px" fill="#000">
<text transform="translate(449.2,526.0) scale(0.93,1)" text-anchor="middle">-2</text>
<text transform="translate(507.2,526.0) scale(0.93,1)" text-anchor="middle">-1</text>
<text transform="translate(567.5,526.0) scale(0.93,1)" text-anchor="middle">0</text>
<text transform="translate(625.5,526.0) scale(0.93,1)" text-anchor="middle">1</text>
<text transform="translate(683.5,526.0) scale(0.93,1)" text-anchor="middle">2</text>
<text transform="translate(434.0,330.5) scale(0.93,1)" text-anchor="end">1.5</text>
<text transform="translate(434.0,359.5) scale(0.93,1)" text-anchor="end">1</text>
<text transform="translate(434.0,388.5) scale(0.93,1)" text-anchor="end">0.5</text>
<text transform="translate(434.0,417.5) scale(0.93,1)" text-anchor="end">0</text>
<text transform="translate(434.0,446.5) scale(0.93,1)" text-anchor="end">-0.5</text>
<text transform="translate(434.0,475.5) scale(0.93,1)" text-anchor="end">-1</text>
<text transform="translate(434.0,504.5) scale(0.93,1)" text-anchor="end">-1.5</text>
<text transform="translate(563.8,542.5) scale(0.93,1)" text-anchor="middle">F2</text>
</g>
</svg></body></html>
